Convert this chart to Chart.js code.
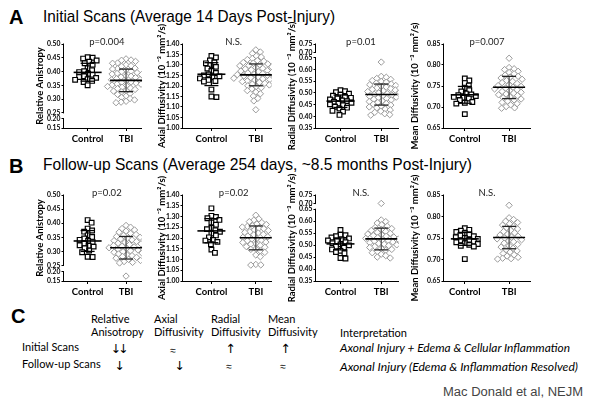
<!DOCTYPE html>
<html>
<head>
<meta charset="utf-8">
<script src="https://cdn.jsdelivr.net/npm/chart.js@4.4.1/dist/chart.umd.min.js"></script>
<style>
  body { margin: 0; background: #fff; width: 590px; height: 404px; position: relative; overflow: hidden; font-family: Lato, sans-serif; color: #000; }
  .t { position: absolute; white-space: nowrap; line-height: 1; transform-origin: left top; color: #000; }
  .big { font: bold 20px 'Liberation Sans', Arial, sans-serif; }
  .head { font: 17px 'Liberation Sans', Arial, sans-serif; }
  .c { font-size: 11px; }
  .arr { font: 12.5px 'DejaVu Sans', sans-serif; letter-spacing: -3px; transform: translateX(-50%); }
  .eq { font: 10px 'Liberation Sans', 'DejaVu Sans', sans-serif; transform: translateX(-50%); }
  .it { font-style: italic; font-size: 10.5px; }
  canvas { position: absolute; }
</style>
</head>
<body>
<div class="t big" style="left:9px;top:6px">A</div>
<div class="t head" data-w="292" style="left:43px;top:7px">Initial Scans (Average 14 Days Post-Injury)</div>
<div class="t big" style="left:9px;top:155px">B</div>
<div class="t head" data-w="429" style="left:43px;top:155px">Follow-up Scans (Average 254 days, ~8.5 months Post-Injury)</div>

<div class="t big" style="left:11px;top:305px">C</div>
<div class="t c" style="left:91px;top:313px">Relative</div>
<div class="t c" style="left:91px;top:326px">Anisotropy</div>
<div class="t c" style="left:154px;top:313px">Axial</div>
<div class="t c" style="left:154px;top:326px">Diffusivity</div>
<div class="t c" style="left:211px;top:313px">Radial</div>
<div class="t c" style="left:211px;top:326px">Diffusivity</div>
<div class="t c" style="left:268px;top:313px">Mean</div>
<div class="t c" style="left:268px;top:326px">Diffusivity</div>
<div class="t c" style="left:340px;top:327px">Interpretation</div>
<div class="t c" style="left:22px;top:341px">Initial Scans</div>
<div class="t c" style="left:22px;top:358px">Follow-up Scans</div>
<div class="t arr" style="left:118px;top:341px">↓↓</div>
<div class="t eq" style="left:173px;top:345px">≈</div>
<div class="t arr" style="left:229px;top:341px">↑</div>
<div class="t arr" style="left:284px;top:341px">↑</div>
<div class="t arr" style="left:118px;top:358px">↓</div>
<div class="t arr" style="left:178px;top:358px">↓</div>
<div class="t eq" style="left:229px;top:361px">≈</div>
<div class="t eq" style="left:283px;top:361px">≈</div>
<div class="t it" data-w="230" style="left:340px;top:343px">Axonal Injury + Edema &amp; Cellular Inflammation</div>
<div class="t it" data-w="238" style="left:340px;top:362px">Axonal Injury (Edema &amp; Inflammation Resolved)</div>
<div class="t" data-w="140" style="left:443px;top:385px;font:12px 'Liberation Sans',Arial,sans-serif;color:#444">Mac Donald et al, NEJM</div>

<script>
// ---- data ----
const groups = ['Control', 'TBI'];
const yTitles = ['Relative Anistropy', 'Axial Diffusivity (10 ⁻³ mm²/s)', 'Radial Diffusivity (10 ⁻³ mm²/s)', 'Mean Diffusivity (10 ⁻³ mm²/s)'];
const pInit = ['p=0.004', 'N.S.', 'p=0.01', 'p=0.007'];
const pFollow = ['p=0.02', 'p=0.02', 'N.S.', 'N.S.'];

const raTicks = [0.15, 0.20, 0.25, 0.30, 0.35, 0.40, 0.45, 0.50];
const adTicks = [1.00, 1.05, 1.10, 1.15, 1.20, 1.25, 1.30, 1.35, 1.40];
const rdTicks = [0.35, 0.40, 0.45, 0.50, 0.55, 0.60, 0.65, 0.70, 0.75];
const mdTicks = [0.65, 0.70, 0.75, 0.80, 0.85];

// initial scans
const raInitCtrl = [0.452, 0.450, 0.447, 0.440, 0.436, 0.430, 0.425, 0.412, 0.405, 0.398, 0.401, 0.392, 0.388, 0.383, 0.380, 0.377, 0.372, 0.370, 0.366, 0.362, 0.350];
const raInitTbi = [0.446, 0.442, 0.441, 0.437, 0.431, 0.430, 0.424, 0.421, 0.419, 0.412, 0.410, 0.409, 0.404, 0.401, 0.399, 0.396, 0.393, 0.391, 0.389, 0.384, 0.383, 0.380, 0.378, 0.374, 0.371, 0.370, 0.369, 0.366, 0.362, 0.361, 0.358, 0.355, 0.354, 0.351, 0.349, 0.346, 0.343, 0.340, 0.338, 0.335, 0.331, 0.329, 0.326, 0.320, 0.317, 0.311, 0.306, 0.302, 0.297, 0.292, 0.289, 0.287];
const raInitMean = [0.397, 0.368];
const raInitLo = [0.365, 0.327];
const raInitHi = [0.430, 0.409];

const adInitCtrl = [1.343, 1.336, 1.322, 1.312, 1.308, 1.300, 1.291, 1.283, 1.272, 1.262, 1.255, 1.250, 1.246, 1.241, 1.236, 1.229, 1.224, 1.221, 1.183, 1.147, 1.150];
const adInitTbi = [1.372, 1.362, 1.355, 1.343, 1.338, 1.331, 1.326, 1.321, 1.318, 1.312, 1.309, 1.305, 1.302, 1.298, 1.296, 1.291, 1.288, 1.284, 1.281, 1.277, 1.274, 1.271, 1.268, 1.265, 1.262, 1.259, 1.256, 1.254, 1.251, 1.248, 1.246, 1.243, 1.240, 1.237, 1.234, 1.231, 1.228, 1.224, 1.221, 1.217, 1.213, 1.209, 1.205, 1.201, 1.197, 1.192, 1.186, 1.178, 1.171, 1.163, 1.152, 1.141, 1.129, 1.087];
const adInitMean = [1.256, 1.253];
const adInitLo = [1.202, 1.201];
const adInitHi = [1.311, 1.305];

const rdInitCtrl = [0.512, 0.507, 0.503, 0.497, 0.492, 0.488, 0.484, 0.479, 0.476, 0.472, 0.468, 0.465, 0.462, 0.458, 0.455, 0.451, 0.447, 0.441, 0.437, 0.433, 0.424, 0.420, 0.406];
const rdInitTbi = [0.632, 0.571, 0.567, 0.562, 0.558, 0.553, 0.549, 0.546, 0.542, 0.538, 0.535, 0.532, 0.528, 0.525, 0.521, 0.518, 0.515, 0.512, 0.509, 0.506, 0.503, 0.500, 0.497, 0.494, 0.491, 0.488, 0.485, 0.482, 0.479, 0.476, 0.473, 0.470, 0.466, 0.463, 0.459, 0.455, 0.452, 0.448, 0.444, 0.440, 0.436, 0.431, 0.427, 0.422, 0.417, 0.411, 0.407, 0.405];
const rdInitMean = [0.465, 0.493];
const rdInitLo = [0.438, 0.448];
const rdInitHi = [0.491, 0.538];

const mdInitCtrl = [0.768, 0.763, 0.757, 0.751, 0.745, 0.740, 0.737, 0.732, 0.730, 0.728, 0.726, 0.724, 0.722, 0.720, 0.716, 0.712, 0.710, 0.708, 0.683];
const mdInitTbi = [0.816, 0.794, 0.791, 0.789, 0.785, 0.782, 0.779, 0.776, 0.773, 0.771, 0.769, 0.766, 0.763, 0.761, 0.758, 0.756, 0.753, 0.751, 0.749, 0.747, 0.745, 0.743, 0.741, 0.739, 0.737, 0.735, 0.733, 0.731, 0.729, 0.727, 0.724, 0.722, 0.719, 0.717, 0.714, 0.711, 0.708, 0.705, 0.701, 0.698, 0.697];
const mdInitMean = [0.729, 0.747];
const mdInitLo = [0.709, 0.720];
const mdInitHi = [0.749, 0.773];

// follow-up scans
const raFollowCtrl = [0.411, 0.402, 0.381, 0.374, 0.370, 0.357, 0.351, 0.346, 0.341, 0.337, 0.333, 0.328, 0.322, 0.320, 0.317, 0.311, 0.303, 0.297, 0.281, 0.280];
const raFollowTbi = [0.392, 0.386, 0.381, 0.376, 0.372, 0.368, 0.364, 0.360, 0.357, 0.353, 0.350, 0.347, 0.344, 0.341, 0.338, 0.335, 0.332, 0.329, 0.327, 0.324, 0.321, 0.318, 0.316, 0.313, 0.311, 0.308, 0.305, 0.302, 0.299, 0.297, 0.294, 0.291, 0.288, 0.285, 0.282, 0.279, 0.276, 0.272, 0.268, 0.264, 0.261, 0.259, 0.176];
const raFollowMean = [0.337, 0.313];
const raFollowLo = [0.300, 0.273];
const raFollowHi = [0.374, 0.353];

const adFollowCtrl = [1.338, 1.303, 1.298, 1.292, 1.284, 1.272, 1.262, 1.247, 1.241, 1.236, 1.229, 1.221, 1.212, 1.203, 1.191, 1.188, 1.182, 1.171, 1.146, 1.131];
const adFollowTbi = [1.306, 1.289, 1.283, 1.276, 1.272, 1.265, 1.263, 1.257, 1.254, 1.251, 1.245, 1.243, 1.237, 1.235, 1.229, 1.226, 1.223, 1.217, 1.215, 1.209, 1.206, 1.203, 1.197, 1.195, 1.189, 1.187, 1.181, 1.179, 1.173, 1.171, 1.166, 1.160, 1.157, 1.150, 1.147, 1.140, 1.133, 1.121, 1.113, 1.077, 1.075, 1.074];
const adFollowMean = [1.233, 1.201];
const adFollowLo = [1.178, 1.145];
const adFollowHi = [1.290, 1.256];

const rdFollowCtrl = [0.563, 0.543, 0.541, 0.537, 0.532, 0.528, 0.524, 0.519, 0.516, 0.512, 0.508, 0.503, 0.499, 0.494, 0.489, 0.482, 0.476, 0.471, 0.466, 0.446, 0.444];
const rdFollowTbi = [0.701, 0.605, 0.598, 0.592, 0.585, 0.579, 0.574, 0.569, 0.565, 0.561, 0.557, 0.553, 0.549, 0.546, 0.543, 0.540, 0.537, 0.534, 0.531, 0.528, 0.525, 0.522, 0.519, 0.516, 0.513, 0.510, 0.507, 0.504, 0.501, 0.498, 0.494, 0.490, 0.486, 0.482, 0.478, 0.473, 0.468, 0.462, 0.456, 0.450, 0.446];
const rdFollowMean = [0.505, 0.526];
const rdFollowLo = [0.480, 0.480];
const rdFollowHi = [0.530, 0.571];

const mdFollowCtrl = [0.773, 0.769, 0.767, 0.764, 0.761, 0.758, 0.756, 0.754, 0.752, 0.750, 0.748, 0.746, 0.744, 0.742, 0.740, 0.738, 0.736, 0.734, 0.732, 0.730, 0.701];
const mdFollowTbi = [0.826, 0.797, 0.793, 0.789, 0.786, 0.783, 0.780, 0.777, 0.774, 0.771, 0.768, 0.765, 0.762, 0.759, 0.757, 0.754, 0.752, 0.750, 0.748, 0.746, 0.743, 0.741, 0.738, 0.735, 0.732, 0.729, 0.726, 0.723, 0.720, 0.717, 0.714, 0.711, 0.708, 0.705, 0.703, 0.702, 0.701];
const mdFollowMean = [0.748, 0.751];
const mdFollowLo = [0.733, 0.725];
const mdFollowHi = [0.763, 0.777];

const initial = [
  {ctrl: raInitCtrl, tbi: raInitTbi, mean: raInitMean, lo: raInitLo, hi: raInitHi},
  {ctrl: adInitCtrl, tbi: adInitTbi, mean: adInitMean, lo: adInitLo, hi: adInitHi},
  {ctrl: rdInitCtrl, tbi: rdInitTbi, mean: rdInitMean, lo: rdInitLo, hi: rdInitHi},
  {ctrl: mdInitCtrl, tbi: mdInitTbi, mean: mdInitMean, lo: mdInitLo, hi: mdInitHi}
];
const followUp = [
  {ctrl: raFollowCtrl, tbi: raFollowTbi, mean: raFollowMean, lo: raFollowLo, hi: raFollowHi},
  {ctrl: adFollowCtrl, tbi: adFollowTbi, mean: adFollowMean, lo: adFollowLo, hi: adFollowHi},
  {ctrl: rdFollowCtrl, tbi: rdFollowTbi, mean: rdFollowMean, lo: rdFollowLo, hi: rdFollowHi},
  {ctrl: mdFollowCtrl, tbi: mdFollowTbi, mean: mdFollowMean, lo: mdFollowLo, hi: mdFollowHi}
];

// ---- layout ----
const metrics = [
  {ticks: raTicks, brkV: [0.15, 0.20, 0.25, 0.50], brkF: [0, 0.11, 0.18, 1], parts: [[0.15, 0.20], [0.25, 0.50]]},
  {ticks: adTicks, brkV: [1.00, 1.40], brkF: [0, 1], parts: [[1.00, 1.40]]},
  {ticks: rdTicks, brkV: [0.35, 0.65, 0.70, 0.75], brkF: [0, 0.835, 0.90, 1], parts: [[0.35, 0.65], [0.70, 0.75]]},
  {ticks: mdTicks, brkV: [0.65, 0.85], brkF: [0, 1], parts: [[0.65, 0.85]]}
];
const cols = [
  {axisX: 64, right: 143, titleX: 40, xMin: 0.385, xMax: 2.41},
  {axisX: 183, right: 273, titleX: 162, xMin: 0.36, xMax: 2.36},
  {axisX: 316, right: 400, titleX: 292, xMin: 0.40, xMax: 2.43},
  {axisX: 444, right: 532, titleX: 415, xMin: 0.53, xMax: 2.49}
];
const rows = [{top: 44, bottom: 128}, {top: 195, bottom: 281}];

// fit headings to the widths they have in the figure
document.querySelectorAll('[data-w]').forEach(el => {
  const w = el.getBoundingClientRect().width;
  el.style.transform = 'scaleX(' + (el.dataset.w / w) + ')';
});

// y axis with breaks: piecewise linear between break values
class BrokenScale extends Chart.LinearScale {
  static id = 'broken';
  static defaults = {};
  frac(v) {
    const bv = this.options.brkV, bf = this.options.brkF;
    let i = 0;
    while (i < bv.length - 2 && v > bv[i + 1]) i++;
    return bf[i] + (v - bv[i]) * (bf[i + 1] - bf[i]) / (bv[i + 1] - bv[i]);
  }
  getPixelForValue(v) {
    if (v === null || isNaN(v)) return NaN;
    return this.bottom - this.frac(v) * (this.bottom - this.top);
  }
  getValueForPixel(p) {
    const bv = this.options.brkV, bf = this.options.brkF;
    const f = (this.bottom - p) / (this.bottom - this.top);
    let i = 0;
    while (i < bf.length - 2 && f > bf[i + 1]) i++;
    return bv[i] + (f - bf[i]) * (bv[i + 1] - bv[i]) / (bf[i + 1] - bf[i]);
  }
}
Chart.register(BrokenScale);

Chart.defaults.font.family = 'Lato';
Chart.defaults.color = '#000';

// spread points sideways like a scatter dot plot
function swarm(chart) {
  const xs = chart.scales.x, ys = chart.scales.y;
  const unit = xs.getPixelForValue(2) - xs.getPixelForValue(1);
  chart.data.datasets.forEach((ds, g) => {
    const d = g ? 4.7 : 4.6;
    const placed = [];
    const order = ds.data.map((p, k) => k).sort((a, b) => ds.data[b].y - ds.data[a].y);
    order.forEach(k => {
      const py = ys.getPixelForValue(ds.data[k].y);
      let off = 0;
      for (let n = 0; n < 200; n++) {
        const o = n === 0 ? 0 : (n % 2 ? 1 : -1) * Math.ceil(n / 2) * 0.5;
        if (!placed.some(q => Math.hypot(q.x - o, q.y - py) < d)) { off = o; break; }
      }
      placed.push({x: off, y: py});
      ds.data[k].x = g + 1 + off / unit;
    });
  });
}

function line(ctx, x0, y0, x1, y1) {
  ctx.beginPath(); ctx.moveTo(x0, y0); ctx.lineTo(x1, y1); ctx.stroke();
}

function buildPanel(r, c, set, pLabel) {
  const m = metrics[c], col = cols[c], row = rows[r];
  const padTop = 44, padBottom = 14, xH = 22;
  const cl = col.titleX - 7;
  const yw = col.axisX - cl;
  const W = col.right - cl + 4;
  const H = row.bottom - row.top + padTop + xH + padBottom;
  const cv = document.createElement('canvas');
  cv.width = W; cv.height = H;
  cv.style.left = cl + 'px'; cv.style.top = (row.top - padTop) + 'px';
  cv.style.width = W + 'px'; cv.style.height = H + 'px';
  document.body.appendChild(cv);

  const decor = {
    id: 'decor',
    afterDatasetsDraw(chart) {
      const ctx = chart.ctx, xs = chart.scales.x, ys = chart.scales.y;
      ctx.save();
      [0, 1].forEach(g => {
        const cx = xs.getPixelForValue(g + 1);
        const ym = ys.getPixelForValue(set.mean[g]);
        const yl = ys.getPixelForValue(set.lo[g]);
        const yh = ys.getPixelForValue(set.hi[g]);
        ctx.lineWidth = 1.3;
        ctx.strokeStyle = g ? '#555' : '#000';
        line(ctx, cx, yl, cx, yh);
        ctx.strokeStyle = g ? '#222' : '#000';
        line(ctx, cx - 7, yl, cx + 7, yl);
        line(ctx, cx - 7, yh, cx + 7, yh);
        ctx.lineWidth = 1.6;
        ctx.strokeStyle = '#000';
        const hw = g ? 16 : 14;
        line(ctx, cx - hw, ym, cx + hw, ym);
      });
      ctx.restore();
    },
    afterDraw(chart) {
      const ctx = chart.ctx, xs = chart.scales.x, ys = chart.scales.y;
      const a = chart.chartArea;
      ctx.save();
      ctx.strokeStyle = '#000';
      ctx.lineWidth = 1;
      const x = Math.round(a.left) - 0.5;
      m.parts.forEach(p => line(ctx, x, ys.getPixelForValue(p[0]) + 0.5, x, ys.getPixelForValue(p[1]) - 0.5));
      ctx.fillStyle = '#222';
      ctx.font = '9.5px Lato';
      ctx.textAlign = 'center';
      ctx.fillText(pLabel, xs.getPixelForValue(1.5), a.top + 1);
      ctx.restore();
    }
  };

  const chart = new Chart(cv, {
    type: 'scatter',
    data: {
      datasets: [
        {data: set.ctrl.map(v => ({x: 1, y: v})), pointStyle: 'rect', pointRadius: 3.3,
         borderColor: '#000', backgroundColor: '#fff', borderWidth: 1.2},
        {data: set.tbi.map(v => ({x: 2, y: v})), pointStyle: 'rectRot', pointRadius: 3.2,
         borderColor: '#9a9a9a', backgroundColor: '#fff', borderWidth: 1}
      ]
    },
    options: {
      responsive: false,
      animation: false,
      events: [],
      layout: {padding: {top: padTop, bottom: padBottom, left: 0, right: 4}},
      plugins: {legend: {display: false}, tooltip: {enabled: false}},
      scales: {
        x: {
          type: 'linear', min: col.xMin, max: col.xMax,
          afterFit: s => { s.height = xH; },
          afterBuildTicks: s => { s.ticks = [{value: 1}, {value: 2}]; },
          ticks: {callback: (v, i) => groups[i], font: {size: 9.5, weight: 'bold'}, padding: 2, autoSkip: false, maxRotation: 0},
          grid: {drawOnChartArea: false, tickLength: 3, color: '#000'},
          border: {color: '#000', width: 1}
        },
        y: {
          type: 'broken', min: m.ticks[0], max: m.ticks[m.ticks.length - 1],
          brkV: m.brkV, brkF: m.brkF,
          afterFit: s => { s.width = yw; },
          afterBuildTicks: s => { s.ticks = m.ticks.map(v => ({value: v})); },
          ticks: {callback: v => v.toFixed(2), font: {size: 6.8, weight: 'bold'}, padding: 1, autoSkip: false},
          grid: {drawOnChartArea: false, tickLength: 2.5, color: '#000'},
          border: {display: false},
          title: {display: true, text: yTitles[c], font: {size: 9.5, weight: 'bold'}, padding: {top: 1, bottom: 0}}
        }
      }
    },
    plugins: [decor]
  });
  swarm(chart);
  chart.update('none');
}

initial.forEach((set, c) => buildPanel(0, c, set, pInit[c]));
followUp.forEach((set, c) => buildPanel(1, c, set, pFollow[c]));
</script>
</body>
</html>
